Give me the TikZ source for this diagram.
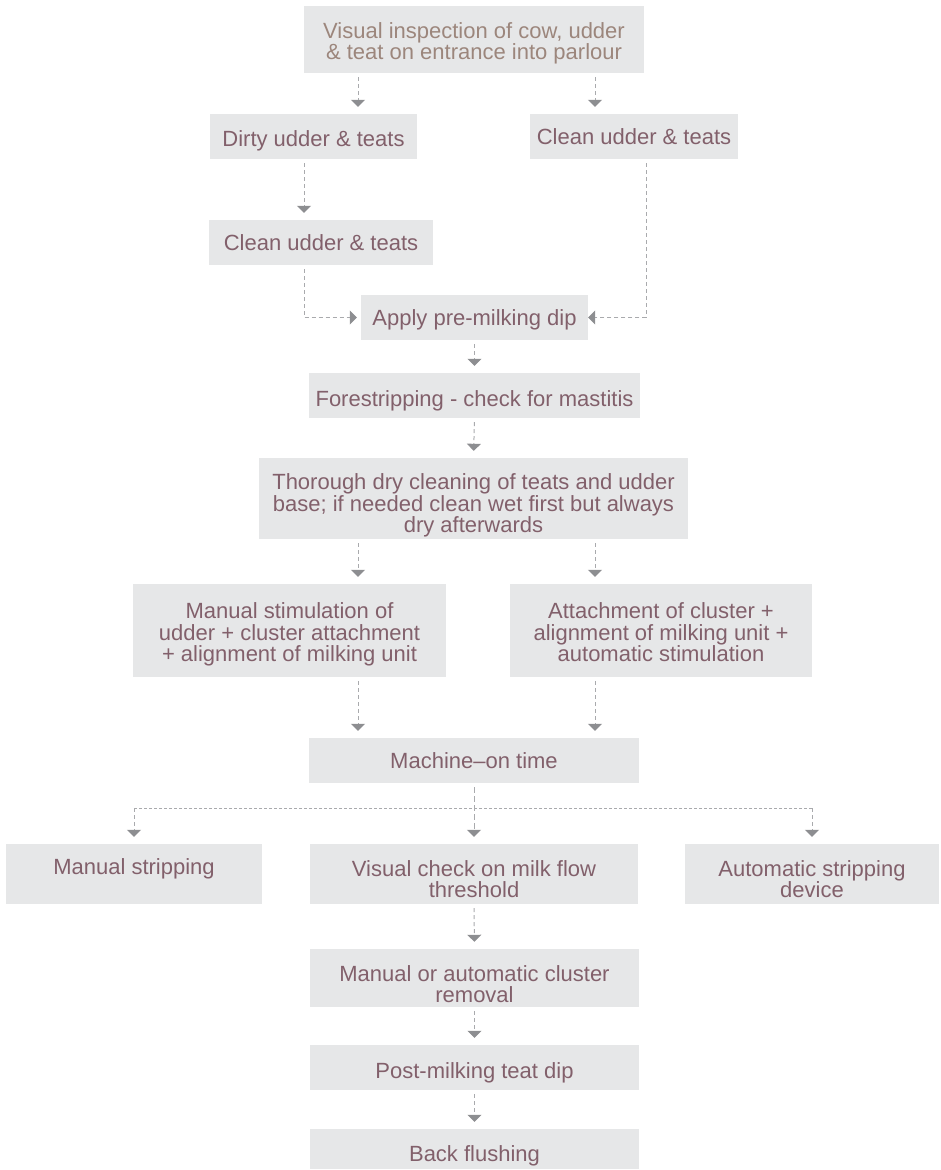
\documentclass[tikz,border=0pt]{standalone}
\usepackage{fontspec}
\setmainfont{Liberation Sans}
\usetikzlibrary{arrows.meta,calc}
\definecolor{boxfill}{HTML}{E6E7E8}
\definecolor{toptext}{HTML}{9C867C}
\definecolor{boxtext}{HTML}{82606B}
\definecolor{dashc}{HTML}{A9AAAD}
\definecolor{headc}{HTML}{8D8E91}
\newcommand\mytup[1]{\rule{0pt}{#1}}
\begin{document}
\begin{tikzpicture}[x=1pt,y=-1pt,
  box/.style={fill=boxfill, draw=none, text=boxtext, align=center,
    font=\fontsize{22}{21.5}\selectfont, inner sep=0pt, text depth=0pt},
  tdown/.style={execute at begin node={\rule{0pt}{#1}}},
  flow/.style={draw=dashc, line width=1pt, dash pattern=on 4pt off 3pt,
    -{Triangle[width=14pt,length=7pt,color=headc,fill=headc]},
    shorten >=7pt, shorten <=4pt},
  plainline/.style={draw=dashc, line width=1pt, dash pattern=on 3pt off 2pt}]
\useasboundingbox (0,0) rectangle (940,1170);

% columns used by connectors
\coordinate (xl) at (358,0);
\coordinate (xr) at (595,0);
\coordinate (xd) at (304,0);
\coordinate (xc) at (646,0);
\coordinate (hub) at (474,808);

\node[box, text=toptext, minimum width=340, minimum height=67] (b1) at (474,39.5)
  {\mytup{19pt}Visual inspection of cow, udder\\ \& teat on entrance into parlour};
\node[box, tdown=20pt, minimum width=207, minimum height=45] (b2) at (313.5,136.5) {Dirty udder \& teats};
\node[box, minimum width=208, minimum height=45] (b3) at (634,136.5) {Clean udder \& teats};
\node[box, minimum width=224, minimum height=45] (b4) at (321,242.5) {Clean udder \& teats};
\node[box, minimum width=227, minimum height=45] (b5) at (474.5,317.5) {Apply pre-milking dip};
\node[box, tdown=22pt, minimum width=331, minimum height=45] (b6) at (474.5,395.5) {Forestripping - check for mastitis};
\node[box, minimum width=429, minimum height=81] (b7) at (473.5,498.5)
  {\mytup{25pt}Thorough dry cleaning of teats and udder\\ base; if needed clean wet first but always\\ dry afterwards};
\node[box, minimum width=313, minimum height=93] (b8) at (289.5,630.5)
  {\mytup{19pt}Manual stimulation of\\ udder + cluster attachment\\ + alignment of milking unit};
\node[box, minimum width=302, minimum height=93] (b9) at (661,630.5)
  {\mytup{19pt}Attachment of cluster +\\ alignment of milking unit +\\ automatic stimulation};
\node[box, minimum width=330, minimum height=45] (b10) at (474,760.5) {Machine–on time};
\node[box, minimum width=256, minimum height=60] (b11) at (134,874) {\mytup{22pt}Manual stripping\\ \strut};
\node[box, minimum width=328, minimum height=60] (b12) at (474,874) {\mytup{26pt}Visual check on milk flow\\ threshold};
\node[box, minimum width=254, minimum height=60] (b13) at (812,874) {\mytup{26pt}Automatic stripping\\ device};
\node[box, minimum width=329, minimum height=58] (b14) at (474.5,978) {\mytup{28pt}Manual or automatic cluster\\ removal};
\node[box, tdown=22pt, minimum width=329, minimum height=45] (b15) at (474.5,1067.5) {Post-milking teat dip};
\node[box, tdown=24pt, minimum width=329, minimum height=40] (b16) at (474.5,1149) {Back flushing};

% connectors
\draw[flow] (b1.south -| xl) -- (b2.north -| xl);
\draw[flow] (b1.south -| xr) -- (b3.north -| xr);
\draw[flow] (b2.south -| xd) -- (b4.north -| xd);
\draw[flow, shorten >=4pt] (b4.south -| xd) |- (b5.west);
\draw[flow, shorten >=0pt] (b3.south -| xc) |- (b5.east);
\draw[flow] (b5.south) -- (b6.north);
\draw[flow] (b6.south) -- (b7.north);
\draw[flow] (b7.south -| xl) -- (b8.north -| xl);
\draw[flow] (b7.south -| xr) -- (b9.north -| xr);
\draw[flow] (b8.south -| xl) -- (b10.north -| xl);
\draw[flow] (b9.south -| xr) -- (b10.north -| xr);
\draw[flow, dash pattern=on 6pt off 3pt] (b10.south) -- (b12.north);
\draw[plainline] (b11.north |- hub) -- (b13.north |- hub);
\draw[flow, shorten <=0pt] (b11.north |- hub) -- (b11.north);
\draw[flow, shorten <=0pt] (b13.north |- hub) -- (b13.north);
\draw[flow] (b12.south) -- (b14.north);
\draw[flow] (b14.south) -- (b15.north);
\draw[flow] (b15.south) -- (b16.north);
\end{tikzpicture}
\end{document}
